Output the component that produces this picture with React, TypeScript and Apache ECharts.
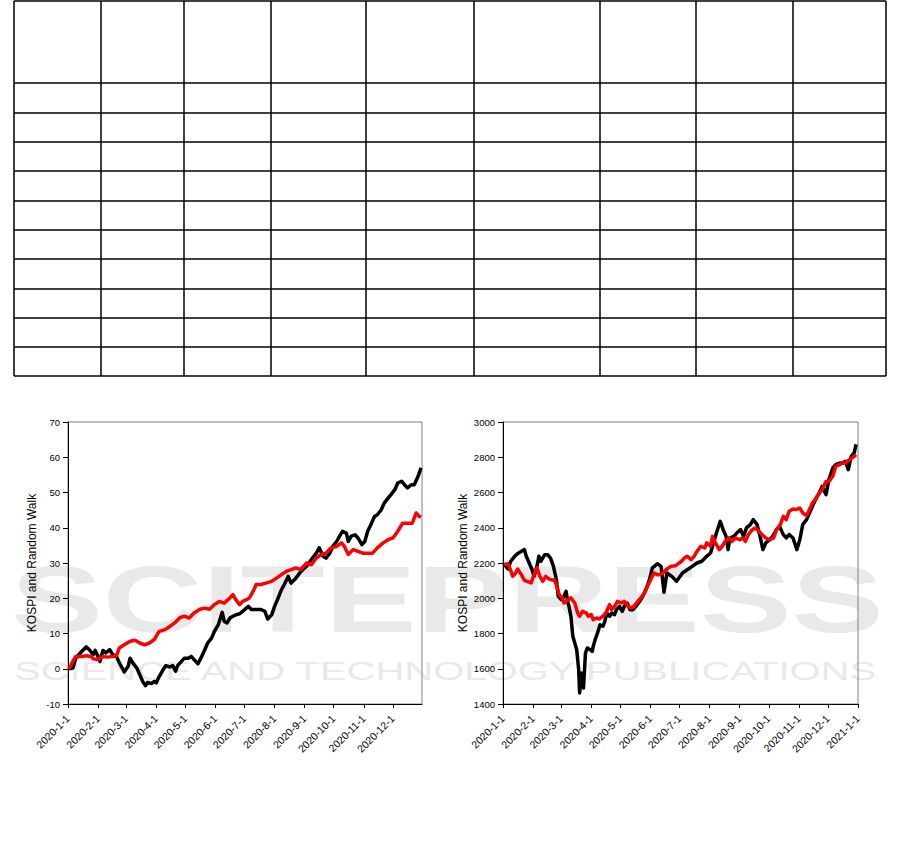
import React, { useEffect, useRef } from "react";
import * as echarts from "echarts";

// ---------- data: left chart (cumulative return, %) ----------
const retKospiDates = [
  "2020-01-02","2020-01-06","2020-01-09","2020-01-15","2020-01-20","2020-01-23","2020-01-27","2020-01-29",
  "2020-02-01","2020-02-03","2020-02-06","2020-02-09","2020-02-13","2020-02-16","2020-02-20","2020-02-23",
  "2020-02-27","2020-02-28","2020-03-03","2020-03-05","2020-03-08","2020-03-12","2020-03-15","2020-03-18",
  "2020-03-21","2020-03-23","2020-03-27","2020-03-30","2020-04-01","2020-04-04","2020-04-08","2020-04-11",
  "2020-04-15","2020-04-18","2020-04-21","2020-04-23","2020-04-27","2020-04-30","2020-05-04","2020-05-07",
  "2020-05-10","2020-05-14","2020-05-17","2020-05-21","2020-05-24","2020-05-28","2020-05-31","2020-06-04",
  "2020-06-08","2020-06-10","2020-06-13","2020-06-16","2020-06-19","2020-06-22","2020-06-26","2020-06-29",
  "2020-07-05","2020-07-08","2020-07-13","2020-07-18","2020-07-22","2020-07-25","2020-07-29","2020-08-01",
  "2020-08-04","2020-08-08","2020-08-11","2020-08-15","2020-08-18","2020-08-23","2020-08-27","2020-08-30",
  "2020-09-03","2020-09-08","2020-09-13","2020-09-16","2020-09-20","2020-09-23","2020-09-27","2020-09-30",
  "2020-10-04","2020-10-07","2020-10-10","2020-10-14","2020-10-16","2020-10-19","2020-10-23","2020-10-26",
  "2020-10-30","2020-11-02","2020-11-05","2020-11-09","2020-11-12","2020-11-15","2020-11-19","2020-11-22",
  "2020-11-26","2020-11-29","2020-12-03","2020-12-06","2020-12-10","2020-12-13","2020-12-16","2020-12-20",
  "2020-12-23","2020-12-27","2020-12-30",
];
const retKospiValues = [
  0, 0.2, 3.0, 4.9, 6.2, 5.4, 4.0, 5.2,
  3.5, 2.1, 5.2, 4.5, 5.4, 4.0, 3.5, 1.6,
  -0.3, -0.9, 0.7, 3.0, 1.6, 0.2, -1.7, -3.6,
  -4.8, -3.9, -4.2, -3.6, -4.0, -2.2, -0.3, 0.9,
  0.5, 0.9, -0.7, 0.9, 2.1, 3.0, 3.0, 3.5,
  2.6, 1.4, 3.0, 5.4, 7.3, 8.7, 10.6, 12.5,
  16.0, 13.5, 13.0, 14.4, 14.9, 15.3, 15.6, 16.3,
  17.7, 16.8, 16.8, 16.8, 16.3, 14.1, 15.3, 17.7,
  19.6, 22.4, 23.9, 26.2, 24.3, 25.7, 27.2, 28.1,
  29.1, 31.0, 32.8, 34.3, 31.9, 31.4, 32.8, 34.7,
  36.1, 37.6, 39.0, 38.5, 36.1, 37.6, 38.0, 37.1,
  35.2, 36.1, 39.0, 41.3, 43.2, 43.7, 45.1, 47.0,
  48.4, 49.4, 50.8, 52.7, 53.2, 52.2, 51.3, 52.2,
  52.2, 54.6, 57.0,
];
const retWalkDates = [
  "2020-01-02","2020-01-06","2020-01-09","2020-01-15","2020-01-20","2020-01-25","2020-01-27","2020-02-01",
  "2020-02-06","2020-02-11","2020-02-16","2020-02-20","2020-02-23","2020-02-28","2020-03-05","2020-03-10",
  "2020-03-15","2020-03-20","2020-03-25","2020-03-30","2020-04-04","2020-04-10","2020-04-15","2020-04-20",
  "2020-04-25","2020-04-30","2020-05-05","2020-05-10","2020-05-16","2020-05-21","2020-05-26","2020-05-31",
  "2020-06-05","2020-06-10","2020-06-14","2020-06-19","2020-06-22","2020-06-26","2020-06-29","2020-07-03",
  "2020-07-06","2020-07-10","2020-07-13","2020-07-18","2020-07-23","2020-07-29","2020-08-03","2020-08-08",
  "2020-08-13","2020-08-18","2020-08-23","2020-08-28","2020-09-03","2020-09-08","2020-09-13","2020-09-18",
  "2020-09-23","2020-09-28","2020-10-04","2020-10-09","2020-10-12","2020-10-16","2020-10-21","2020-10-26",
  "2020-10-31","2020-11-05","2020-11-10","2020-11-15","2020-11-21","2020-11-26","2020-12-01","2020-12-06",
  "2020-12-11","2020-12-16","2020-12-21","2020-12-25","2020-12-28","2020-12-30",
];
const retWalkValues = [
  0, 2.1, 3.5, 3.5, 3.7, 3.5, 2.8, 2.6,
  3.5, 3.3, 3.5, 3.7, 5.9, 6.8, 7.8, 8.1,
  7.3, 6.8, 7.3, 8.3, 10.6, 11.1, 12.0, 13.0,
  14.4, 14.9, 14.4, 15.8, 16.9, 17.2, 16.9, 18.2,
  19.1, 18.6, 19.6, 21.0, 19.6, 18.2, 19.1, 19.6,
  20.1, 22.0, 23.9, 23.9, 24.3, 24.8, 25.7, 26.7,
  27.6, 28.1, 28.6, 28.1, 30.0, 29.5, 31.4, 32.4,
  32.8, 34.3, 34.7, 35.7, 34.7, 32.4, 33.8, 33.3,
  32.8, 32.8, 32.8, 34.3, 35.7, 36.6, 37.1, 39.0,
  41.3, 41.3, 41.3, 44.2, 43.2, 43.0,
];

// ---------- data: right chart (index level) ----------
const lvlKospiDates = [
  "2020-01-02","2020-01-06","2020-01-09","2020-01-13","2020-01-16","2020-01-20","2020-01-23","2020-01-25",
  "2020-01-28","2020-01-31","2020-02-02","2020-02-05","2020-02-07","2020-02-09","2020-02-13","2020-02-16",
  "2020-02-19","2020-02-22","2020-02-25","2020-02-27","2020-03-01","2020-03-03","2020-03-06","2020-03-08",
  "2020-03-09","2020-03-11","2020-03-13","2020-03-15","2020-03-17","2020-03-19","2020-03-20","2020-03-22",
  "2020-03-24","2020-03-26","2020-03-28","2020-03-31","2020-04-02","2020-04-03","2020-04-05","2020-04-08",
  "2020-04-10","2020-04-13","2020-04-15","2020-04-17","2020-04-20","2020-04-22","2020-04-25","2020-04-27",
  "2020-04-30","2020-05-03","2020-05-05","2020-05-08","2020-05-11","2020-05-14","2020-05-17","2020-05-21",
  "2020-05-24","2020-05-28","2020-05-31","2020-06-03","2020-06-05","2020-06-08","2020-06-12","2020-06-15",
  "2020-06-18","2020-06-23","2020-06-28","2020-07-04","2020-07-09","2020-07-14","2020-07-19","2020-07-24",
  "2020-07-29","2020-08-02","2020-08-05","2020-08-08","2020-08-12","2020-08-15","2020-08-18","2020-08-20",
  "2020-08-22","2020-08-26","2020-08-29","2020-09-02","2020-09-05","2020-09-08","2020-09-12","2020-09-15",
  "2020-09-19","2020-09-22","2020-09-25","2020-09-28","2020-10-02","2020-10-05","2020-10-09","2020-10-12",
  "2020-10-16","2020-10-19","2020-10-22","2020-10-26","2020-10-30","2020-11-02","2020-11-05","2020-11-09",
  "2020-11-12","2020-11-15","2020-11-19","2020-11-22","2020-11-25","2020-11-29","2020-12-02","2020-12-06",
  "2020-12-09","2020-12-13","2020-12-16","2020-12-19","2020-12-22","2020-12-25","2020-12-28","2020-12-30",
];
const lvlKospiValues = [
  2196, 2166, 2210, 2238, 2253, 2266, 2276, 2238,
  2200, 2162, 2124, 2181, 2238, 2210, 2247, 2247,
  2228, 2181, 2106, 2011, 1992, 2002, 2039, 1973,
  1954, 1898, 1784, 1746, 1708, 1595, 1463, 1576,
  1491, 1689, 1718, 1708, 1699, 1727, 1765, 1812,
  1850, 1841, 1869, 1916, 1898, 1916, 1907, 1935,
  1954, 1926, 1954, 1973, 1935, 1935, 1954, 1983,
  2011, 2058, 2106, 2172, 2181, 2196, 2181, 2034,
  2143, 2124, 2096, 2143, 2162, 2181, 2200, 2210,
  2238, 2257, 2314, 2370, 2436, 2389, 2351, 2276,
  2342, 2351, 2370, 2389, 2351, 2399, 2418, 2446,
  2418, 2351, 2276, 2314, 2332, 2351, 2389, 2408,
  2361, 2342, 2361, 2342, 2276, 2332, 2418, 2446,
  2484, 2522, 2569, 2597, 2635, 2588, 2673, 2739,
  2758, 2767, 2767, 2777, 2730, 2805, 2824, 2873,
];
const lvlWalkDates = [
  "2020-01-02","2020-01-06","2020-01-08","2020-01-11","2020-01-14","2020-01-16","2020-01-20","2020-01-23",
  "2020-01-26","2020-01-30","2020-02-02","2020-02-05","2020-02-08","2020-02-11","2020-02-14","2020-02-16",
  "2020-02-19","2020-02-23","2020-02-25","2020-02-28","2020-03-02","2020-03-04","2020-03-08","2020-03-11",
  "2020-03-15","2020-03-18","2020-03-20","2020-03-23","2020-03-27","2020-03-29","2020-04-01","2020-04-03",
  "2020-04-07","2020-04-09","2020-04-13","2020-04-16","2020-04-20","2020-04-22","2020-04-25","2020-04-28",
  "2020-05-02","2020-05-05","2020-05-09","2020-05-12","2020-05-15","2020-05-19","2020-05-22","2020-05-26",
  "2020-05-29","2020-06-02","2020-06-05","2020-06-08","2020-06-10","2020-06-14","2020-06-17","2020-06-22",
  "2020-06-27","2020-07-03","2020-07-06","2020-07-09","2020-07-13","2020-07-16","2020-07-19","2020-07-23",
  "2020-07-27","2020-07-29","2020-08-02","2020-08-04","2020-08-07","2020-08-11","2020-08-14","2020-08-17",
  "2020-08-21","2020-08-24","2020-08-28","2020-09-01","2020-09-04","2020-09-07","2020-09-10","2020-09-14",
  "2020-09-17","2020-09-21","2020-09-24","2020-09-28","2020-10-02","2020-10-06","2020-10-09","2020-10-13",
  "2020-10-16","2020-10-19","2020-10-22","2020-10-26","2020-10-29","2020-11-02","2020-11-05","2020-11-09",
  "2020-11-12","2020-11-15","2020-11-19","2020-11-22","2020-11-25","2020-11-29","2020-12-02","2020-12-06",
  "2020-12-09","2020-12-13","2020-12-16","2020-12-19","2020-12-23","2020-12-28","2020-12-30",
];
const lvlWalkValues = [
  2191, 2196, 2172, 2124, 2143, 2166, 2134, 2102,
  2096, 2087, 2134, 2172, 2124, 2096, 2124, 2115,
  2106, 2102, 2077, 2020, 2002, 1973, 1992, 2002,
  1973, 1916, 1898, 1926, 1916, 1898, 1907, 1879,
  1888, 1882, 1898, 1916, 1964, 1935, 1954, 1983,
  1973, 1983, 1954, 1945, 1954, 1983, 2002, 2030,
  2068, 2115, 2143, 2134, 2134, 2143, 2162, 2181,
  2185, 2210, 2228, 2238, 2219, 2238, 2266, 2295,
  2285, 2314, 2295, 2351, 2314, 2276, 2295, 2323,
  2342, 2323, 2342, 2332, 2342, 2323, 2361, 2389,
  2399, 2380, 2361, 2342, 2332, 2342, 2389, 2418,
  2465, 2446, 2493, 2506, 2503, 2512, 2484, 2469,
  2503, 2540, 2569, 2597, 2616, 2663, 2663, 2692,
  2748, 2758, 2767, 2767, 2786, 2805, 2815,
];

// ---------- axis tick labels ----------
const monthTicksLeft = [
  "2020-01-01","2020-02-01","2020-03-01","2020-04-01","2020-05-01","2020-06-01",
  "2020-07-01","2020-08-01","2020-09-01","2020-10-01","2020-11-01","2020-12-01",
];
const monthTicksRight = [...monthTicksLeft, "2021-01-01"];
const axisEndLeft = "2020-12-31";
const axisEndRight = "2021-01-01";
const yNameText = "KOSPI and Random Walk";

// ---------- helpers ----------
const DAY = 86400000;
const BASE = Date.UTC(2020, 0, 1);
function dayIndex(s: string): number {
  const [y, m, d] = s.split("-").map(Number);
  return Math.round((Date.UTC(y, m - 1, d) - BASE) / DAY);
}
function fmtDay(v: number): string {
  const dt = new Date(BASE + Math.round(v) * DAY);
  return `${dt.getUTCFullYear()}-${dt.getUTCMonth() + 1}-${dt.getUTCDate()}`;
}
function pairs(dates: string[], vals: number[]) {
  return dates.map((d, i) => [dayIndex(d), vals[i]]);
}

const FONT = '"Liberation Sans", Arial, sans-serif';

function xAxisCfg(gridIndex: number, ticks: string[], end: string) {
  const vals = ticks.map(dayIndex);
  return {
    type: "value",
    gridIndex,
    min: 0,
    max: dayIndex(end),
    axisLine: { show: true, onZero: false, lineStyle: { color: "#000", width: 1 } },
    axisTick: { show: true, inside: false, length: 4, customValues: vals, lineStyle: { color: "#000" } },
    axisLabel: {
      show: true,
      customValues: vals,
      rotate: 45,
      formatter: (v: number) => fmtDay(v),
      fontSize: 10.5,
      color: "#000",
      fontFamily: FONT,
      margin: 13,
    },
    splitLine: { show: false },
  };
}

function yAxisCfg(gridIndex: number, min: number, max: number, interval: number, nameGap: number) {
  return {
    type: "value",
    gridIndex,
    min,
    max,
    interval,
    name: yNameText,
    nameLocation: "middle",
    nameGap,
    nameTextStyle: { fontSize: 12, color: "#000", fontFamily: FONT },
    axisLine: { show: true, onZero: false, lineStyle: { color: "#000", width: 1 } },
    axisTick: { show: true, inside: false, length: 5, lineStyle: { color: "#000" } },
    axisLabel: {
      fontSize: 9.5,
      color: "#000",
      fontFamily: FONT,
      margin: 8,
      formatter: (v: number) => String(v),
    },
    splitLine: { show: false },
  };
}

// table grid layout (empty table at the top)
const tableCols = [14, 101, 184, 271, 366, 474, 600, 696, 793, 886];
const tableRows = [1, 83, 113, 142, 171, 201, 230, 259, 289, 318, 347, 376];

export default function App() {
  const ref = useRef<HTMLDivElement>(null);

  useEffect(() => {
    if (!ref.current) return;
    const chart = echarts.init(ref.current, undefined, { renderer: "svg" });

    const tableLines: any[] = [];
    const top = tableRows[0];
    const bottom = tableRows[tableRows.length - 1];
    const left = tableCols[0];
    const right = tableCols[tableCols.length - 1];
    tableCols.forEach((x) =>
      tableLines.push({
        type: "line",
        shape: { x1: x, y1: top, x2: x, y2: bottom },
        style: { stroke: "#000", lineWidth: 1.5 },
        silent: true,
      })
    );
    tableRows.forEach((y) =>
      tableLines.push({
        type: "line",
        shape: { x1: left, y1: y, x2: right, y2: y },
        style: { stroke: "#000", lineWidth: 1.5 },
        silent: true,
      })
    );

    const watermark = [
      {
        type: "text",
        x: 11,
        y: 599,
        scaleX: 1.45,
        z: -10,
        silent: true,
        style: {
          text: "SCITEPRESS",
          font: `bold 95px ${FONT}`,
          fill: "#e9e9e9",
          align: "left",
          verticalAlign: "middle",
        },
      },
      {
        type: "text",
        x: 14,
        y: 671,
        scaleX: 1.6,
        z: -10,
        silent: true,
        style: {
          text: "SCIENCE AND TECHNOLOGY PUBLICATIONS",
          font: `25px ${FONT}`,
          fill: "#e9e9e9",
          align: "left",
          verticalAlign: "middle",
        },
      },
    ];

    const lineSeries = (name: string, xi: number, data: number[][], color: string, z: number) => ({
      type: "line",
      name,
      xAxisIndex: xi,
      yAxisIndex: xi,
      data,
      showSymbol: false,
      lineStyle: { color, width: 3.5, join: "round" },
      itemStyle: { color },
      z,
    });

    const option: any = {
      animation: false,
      backgroundColor: "#fff",
      graphic: [...watermark, ...tableLines],
      grid: [
        { left: 68, top: 422, width: 354, height: 282, show: true, borderColor: "#808080", borderWidth: 1, backgroundColor: "transparent" },
        { left: 503, top: 422, width: 355, height: 282, show: true, borderColor: "#808080", borderWidth: 1, backgroundColor: "transparent" },
      ],
      xAxis: [xAxisCfg(0, monthTicksLeft, axisEndLeft), xAxisCfg(1, monthTicksRight, axisEndRight)],
      yAxis: [yAxisCfg(0, -10, 70, 10, 30), yAxisCfg(1, 1400, 3000, 200, 34)],
      series: [
        lineSeries("KOSPI", 0, pairs(retKospiDates, retKospiValues), "#000000", 3),
        lineSeries("Random Walk", 0, pairs(retWalkDates, retWalkValues), "#ff0000", 4),
        lineSeries("KOSPI", 1, pairs(lvlKospiDates, lvlKospiValues), "#000000", 3),
        lineSeries("Random Walk", 1, pairs(lvlWalkDates, lvlWalkValues), "#ff0000", 4),
      ],
    };

    chart.setOption(option);
    return () => chart.dispose();
  }, []);

  return (
    <div
      ref={ref}
      style={{ position: "absolute", left: 0, top: 0, width: 901, height: 855, background: "#fff" }}
    />
  );
}
